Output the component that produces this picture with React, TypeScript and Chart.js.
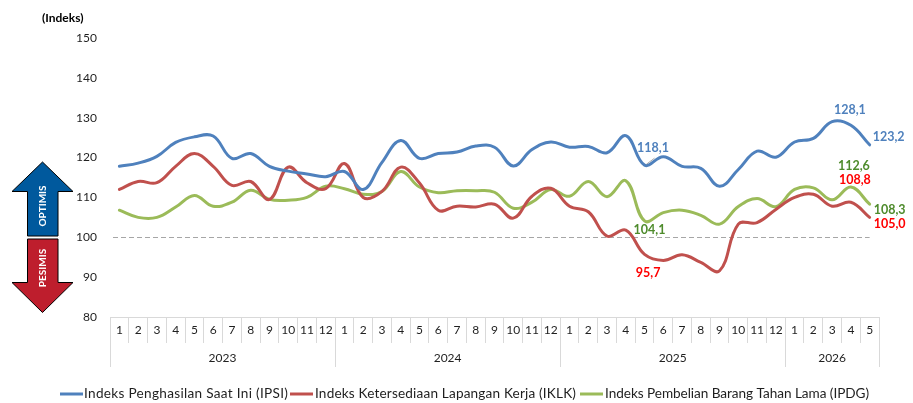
import React, { useEffect, useRef } from "react";
import { Chart, registerables } from "chart.js";

Chart.register(...registerables);

const months = [
  "1","2","3","4","5","6","7","8","9","10","11","12",
  "1","2","3","4","5","6","7","8","9","10","11","12",
  "1","2","3","4","5","6","7","8","9","10","11","12",
  "1","2","3","4","5",
];
const years = ["2023", "2024", "2025", "2026"];
const yearMonthCounts = [12, 12, 12, 5];
const ipsi = [
  117.8,118.6,120.3,123.8,125.2,125.4,119.8,121,117.8,116.6,115.9,115.2,
  116.5,112,118.8,124.3,119.8,121,121.4,122.9,122.6,117.9,122,123.9,
  122.6,122.8,121.2,125.5,118.1,120.2,117.8,117.3,112.8,117,121.6,120.1,
  123.9,124.8,129,128.1,123.2,
];
const iklk = [
  112,114,113.7,117.8,121,117.8,113,114,109.5,117.6,113.7,112.2,
  118.5,110,111.5,117.6,113.6,106.8,107.8,107.6,108.3,104.8,110.3,112.3,
  107.8,106.4,100.3,101.8,95.7,94.2,95.6,93.7,91.6,103.3,103.7,107,
  110,110.8,107.8,108.8,105,
];
const ipdg = [
  106.8,105,105,107.6,110.5,107.8,108.8,111.8,109.5,109.3,110,112.8,
  112.2,110.8,111.5,116.5,112.6,111.2,111.7,111.7,111.3,107.3,108.8,112,
  110.3,114,110.2,114.2,104.1,106.2,106.8,105.5,103.3,107.7,109.7,107.7,
  112,112.4,109.4,112.6,108.3,
];
const seriesNames = [
  "Indeks Penghasilan Saat Ini (IPSI)",
  "Indeks Ketersediaan Lapangan Kerja (IKLK)",
  "Indeks Pembelian Barang Tahan Lama (IPDG)",
];
const seriesColors = ["#4F81BD", "#C0504D", "#9BBB59"];

const FONT = "Lato, 'Open Sans', sans-serif";
const TEXT = "#1f1f1f";
const GREY = "#D9D9D9";
const BLUE_L = "#4F81BD";
const GREEN_L = "#4E8B2C";
const RED_L = "#FF0000";

// dataset, index, dx, dy from the point to the label centre, colour
const pointLabels: [number, number, number, number, string][] = [
  [0, 28, 8.5, -17, BLUE_L],
  [0, 39, -1, -15, BLUE_L],
  [0, 40, 19, -8, BLUE_L],
  [2, 28, 5, 9, GREEN_L],
  [1, 28, 3.5, 19, RED_L],
  [2, 39, 3, -21, GREEN_L],
  [1, 39, 4, -22, RED_L],
  [2, 40, 20, 6, GREEN_L],
  [1, 40, 20, 7, RED_L],
];

const fmt = (v: number) => v.toFixed(1).replace(".", ",");

const decor = {
  id: "decor",
  beforeDatasetsDraw(c: any) {
    const { ctx, chartArea, scales } = c;
    const yp = scales.y.getPixelForValue(100);
    const lastX = scales.x.getPixelForValue(months.length - 1);
    ctx.save();
    ctx.strokeStyle = "#A6A6A6";
    ctx.lineWidth = 1;
    ctx.setLineDash([5, 3]);
    ctx.beginPath();
    ctx.moveTo(chartArea.left + 3, Math.round(yp) + 0.5);
    ctx.lineTo(lastX, Math.round(yp) + 0.5);
    ctx.stroke();
    ctx.restore();
  },
  afterDraw(c: any) {
    const { ctx, chartArea, scales } = c;
    const x = scales.x;
    const step = x.getPixelForValue(1) - x.getPixelForValue(0);
    ctx.save();

    // year separators and year labels
    let start = 0;
    ctx.strokeStyle = GREY;
    ctx.lineWidth = 1;
    ctx.fillStyle = TEXT;
    ctx.font = `12px ${FONT}`;
    ctx.textAlign = "center";
    ctx.textBaseline = "middle";
    const sep = (px: number) => {
      ctx.beginPath();
      ctx.moveTo(Math.round(px) + 0.5, chartArea.bottom);
      ctx.lineTo(Math.round(px) + 0.5, chartArea.bottom + 50);
      ctx.stroke();
    };
    sep(x.getPixelForValue(0) - step / 2);
    years.forEach((yr, i) => {
      const end = start + yearMonthCounts[i];
      const l = x.getPixelForValue(start) - step / 2;
      const r = x.getPixelForValue(end - 1) + step / 2;
      sep(r);
      ctx.fillText(yr, (l + r) / 2, chartArea.bottom + 41);
      start = end;
    });

    // point labels
    ctx.font = `bold 12.5px ${FONT}`;
    pointLabels.forEach(([ds, idx, dx, dy, col]) => {
      const data = c.data.datasets[ds].data;
      const px = x.getPixelForValue(idx);
      const py = scales.y.getPixelForValue(data[idx]);
      ctx.fillStyle = col;
      ctx.fillText(fmt(data[idx]), px + dx, py + dy);
    });

    // leader line of the 118,1 label
    const lx = x.getPixelForValue(28);
    const ly = scales.y.getPixelForValue(ipsi[28]);
    ctx.strokeStyle = "#A6A6A6";
    ctx.beginPath();
    ctx.moveTo(lx + 2, ly - 1);
    ctx.lineTo(lx + 10, ly - 7);
    ctx.stroke();

    // legend
    const legendItems = [
      [60, 84, 0.3],
      [290, 315, 0.17],
      [580, 605, -0.05],
    ];
    ctx.font = `13.6px ${FONT}`;
    ctx.textAlign = "left";
    legendItems.forEach(([lineX, textX, spacing], i) => {
      ctx.strokeStyle = seriesColors[i];
      ctx.lineWidth = 3;
      ctx.beginPath();
      ctx.moveTo(lineX, 394);
      ctx.lineTo(lineX + 23, 394);
      ctx.stroke();
      ctx.fillStyle = TEXT;
      ctx.letterSpacing = `${spacing}px`;
      ctx.fillText(seriesNames[i], textX, 394);
    });
    ctx.letterSpacing = "0px";

    // unit title
    ctx.font = `bold 12px ${FONT}`;
    ctx.fillStyle = "#000";
    ctx.fillText("(Indeks)", 42, 18);

    // arrows
    const arrow = (pts: number[][], fill: string) => {
      ctx.beginPath();
      pts.forEach(([a, b], i) => (i ? ctx.lineTo(a, b) : ctx.moveTo(a, b)));
      ctx.closePath();
      ctx.fillStyle = fill;
      ctx.fill();
      ctx.strokeStyle = "#000";
      ctx.lineWidth = 1;
      ctx.stroke();
    };
    arrow([[42.5,162],[73,191.5],[58,191.5],[58,236],[27.5,236],[27.5,191.5],[12,191.5]], "#00599D");
    arrow([[27.5,239],[58,239],[58,282.5],[73,282.5],[42.5,312.5],[12,282.5],[27.5,282.5]], "#BE1E2D");
    const vtext = (t: string, cx: number, cy: number) => {
      ctx.save();
      ctx.translate(cx, cy);
      ctx.rotate(-Math.PI / 2);
      ctx.font = `bold 10px ${FONT}`;
      ctx.fillStyle = "#fff";
      ctx.textAlign = "center";
      ctx.fillText(t, 0, 0);
      ctx.restore();
    };
    vtext("OPTIMIS", 43, 206);
    vtext("PESIMIS", 43, 268);
    ctx.restore();
  },
};

export default function App() {
  const ref = useRef<HTMLCanvasElement>(null);
  useEffect(() => {
    document.body.style.margin = "0";
    const mk = (i: number, data: number[]) => ({
      label: seriesNames[i],
      data,
      borderColor: seriesColors[i],
      backgroundColor: seriesColors[i],
      borderWidth: 3,
      pointRadius: 0,
      tension: 0.4,
      fill: false,
      borderCapStyle: "round" as const,
    });
    const chart = new Chart(ref.current!, {
      type: "line",
      data: {
        labels: months,
        datasets: [mk(0, ipsi), mk(1, iklk), mk(2, ipdg)],
      },
      options: {
        responsive: false,
        animation: false,
        layout: { padding: { top: 38, right: 34, left: 0, bottom: 0 } },
        plugins: { legend: { display: false }, title: { display: false }, tooltip: { enabled: false } },
        scales: {
          x: {
            type: "category",
            offset: true,
            afterFit: (s: any) => { s.height = 86; },
            border: { display: true, color: GREY },
            grid: {
              offset: true,
              drawOnChartArea: false,
              drawTicks: true,
              tickLength: 26,
              tickColor: GREY,
              color: GREY,
            },
            ticks: {
              autoSkip: false,
              maxRotation: 0,
              padding: -20,
              color: TEXT,
              font: { family: FONT, size: 12 },
            },
          },
          y: {
            min: 80,
            max: 150,
            afterFit: (s: any) => { s.width = 110; },
            border: { display: false },
            grid: { display: false, drawTicks: false },
            ticks: {
              stepSize: 10,
              padding: 13,
              color: TEXT,
              font: { family: FONT, size: 12 },
            },
          },
        },
      },
      plugins: [decor],
    });
    return () => chart.destroy();
  }, []);
  return (
    <div style={{ position: "absolute", left: 0, top: 0, width: 913, height: 403 }}>
      <canvas ref={ref} width={913} height={403} style={{ display: "block" }} />
    </div>
  );
}
